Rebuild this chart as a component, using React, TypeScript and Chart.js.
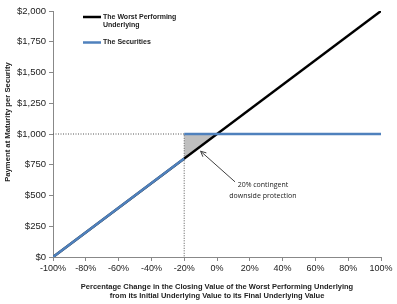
import React, { useEffect, useRef } from "react";
import { Chart, registerables } from "chart.js";

Chart.register(...registerables);

// Worst performing underlying: payoff 1:1 with underlying
const worstX = [-100, 100];
const worstY = [0, 2000];
// The securities: loss 1:1 below barrier, $1,000 at or above barrier
const secX = [-100, -20, -20, -20, 100];
const secY: (number | null)[] = [0, 800, null, 1000, 1000];
// Shaded protection region (between worst line and $1,000)
const protX = [-20, 0];
const protY = [800, 1000];
// Dotted guide lines
const guideX = [-100, -20, -20];
const guideY = [1000, 1000, 0];

const xTickStep = 20;
const yTickStep = 250;
const xMin = -100, xMax = 100, yMin = 0, yMax = 2000;

const legendLabels = [["The Worst Performing", "Underlying"], ["The Securities"]];
const xTitle = [
  "Percentage Change in the Closing Value of the Worst Performing Underlying",
  "from its Initial Underlying Value to its Final Underlying Value",
];
const yTitle = "Payment at Maturity per Security";
const noteLines = ["20% contingent", "downside protection"];
const arrowFrom = { x: 11, y: 611 };
const arrowTo = { x: -10, y: 860 };
const notePos = { x: 28, y: 585 };

const toPts = (xs: number[], ys: (number | null)[]) => xs.map((x, i) => ({ x, y: ys[i] }));

const overlay = {
  id: "overlay",
  afterDraw(chart: any) {
    const ctx = chart.ctx;
    const xs = chart.scales.x, ys = chart.scales.y;
    const area = chart.chartArea;
    ctx.save();
    // Legend
    const lx0 = area.left + 30, lx1 = area.left + 48;
    ctx.lineWidth = 2.5;
    ctx.strokeStyle = "#000";
    ctx.beginPath(); ctx.moveTo(lx0, 17); ctx.lineTo(lx1, 17); ctx.stroke();
    ctx.strokeStyle = "#4f81bd";
    ctx.beginPath(); ctx.moveTo(lx0, 42.5); ctx.lineTo(lx1, 42.5); ctx.stroke();
    ctx.fillStyle = "#222";
    ctx.font = "bold 7px 'Liberation Sans', Arial, sans-serif";
    ctx.textBaseline = "middle";
    ctx.textAlign = "left";
    ctx.fillText(legendLabels[0][0], lx1 + 2, 17);
    ctx.fillText(legendLabels[0][1], lx1 + 2, 25);
    ctx.fillText(legendLabels[1][0], lx1 + 2, 42.5);

    // Axis titles
    ctx.font = "bold 7.5px 'Liberation Sans', Arial, sans-serif";
    ctx.textAlign = "center";
    const cx = (area.left + area.right) / 2;
    ctx.fillText(xTitle[0], cx, 287);
    ctx.fillText(xTitle[1], cx, 296);
    ctx.save();
    ctx.translate(8, 122);
    ctx.rotate(-Math.PI / 2);
    ctx.font = "bold 7.7px 'Liberation Sans', Arial, sans-serif";
    ctx.fillText(yTitle, 0, 0);
    ctx.restore();

    // Annotation arrow
    const ax0 = xs.getPixelForValue(arrowFrom.x), ay0 = ys.getPixelForValue(arrowFrom.y);
    const ax1 = xs.getPixelForValue(arrowTo.x), ay1 = ys.getPixelForValue(arrowTo.y);
    ctx.strokeStyle = "#404040";
    ctx.fillStyle = "#404040";
    ctx.lineWidth = 1;
    ctx.beginPath(); ctx.moveTo(ax0, ay0); ctx.lineTo(ax1, ay1); ctx.stroke();
    const ang = Math.atan2(ay1 - ay0, ax1 - ax0);
    const hl = 6, hw = 0.45;
    ctx.beginPath();
    ctx.moveTo(ax1, ay1);
    ctx.lineTo(ax1 - hl * Math.cos(ang - hw), ay1 - hl * Math.sin(ang - hw));
    ctx.moveTo(ax1, ay1);
    ctx.lineTo(ax1 - hl * Math.cos(ang + hw), ay1 - hl * Math.sin(ang + hw));
    ctx.stroke();

    // Note text
    ctx.fillStyle = "#222";
    ctx.font = "7px 'Open Sans', sans-serif";
    ctx.textAlign = "center";
    const nx = xs.getPixelForValue(notePos.x), ny = ys.getPixelForValue(notePos.y);
    ctx.fillText(noteLines[0], nx, ny);
    ctx.fillText(noteLines[1], nx, ny + 11);
    ctx.restore();
  },
};

export default function App() {
  const ref = useRef<HTMLCanvasElement>(null);
  useEffect(() => {
    const chart = new Chart(ref.current!, {
      type: "line",
      data: {
        datasets: [
          {
            data: toPts(secX, secY) as any,
            borderColor: "#4f81bd",
            borderWidth: 2.5,
            pointRadius: 0,
            spanGaps: false,
            fill: false,
            order: 1,
          },
          {
            data: toPts(worstX, worstY) as any,
            borderColor: "#000",
            borderWidth: 2.5,
            pointRadius: 0,
            fill: false,
            order: 2,
          },
          {
            data: toPts(guideX, guideY) as any,
            borderColor: "#555",
            borderWidth: 1,
            borderDash: [1, 1.5],
            pointRadius: 0,
            fill: false,
            order: 3,
          },
          {
            data: toPts(protX, protY) as any,
            borderColor: "rgba(0,0,0,0)",
            borderWidth: 0,
            backgroundColor: "#bfbfbf",
            pointRadius: 0,
            fill: { value: 1000 },
            order: 4,
          },
        ],
      },
      options: {
        animation: false,
        responsive: false,
        layout: { padding: { top: 11, right: 16, left: 0, bottom: 0 } },
        plugins: { legend: { display: false }, tooltip: { enabled: false } },
        scales: {
          x: {
            type: "linear",
            min: xMin,
            max: xMax,
            afterFit: (s: any) => { s.height = 47; },
            ticks: {
              stepSize: xTickStep,
              callback: (v: any) => v + "%",
              color: "#222",
              font: { family: "'Liberation Sans', Arial, sans-serif", size: 9 },
              padding: 2,
              maxRotation: 0,
            },
            grid: { drawOnChartArea: false, drawTicks: true, tickLength: 4, color: "#888" },
            border: { color: "#888" },
          },
          y: {
            min: yMin,
            max: yMax,
            afterFit: (s: any) => { s.width = 53; },
            ticks: {
              stepSize: yTickStep,
              callback: (v: any) => "$" + Number(v).toLocaleString("en-US"),
              color: "#222",
              font: { family: "'Liberation Sans', Arial, sans-serif", size: 9.5 },
              padding: 3,
            },
            grid: { drawOnChartArea: false, drawTicks: true, tickLength: 4, color: "#888" },
            border: { color: "#888" },
          },
        },
      },
      plugins: [overlay],
    });
    return () => chart.destroy();
  }, []);
  return (
    <div style={{ position: "absolute", left: 0, top: 0, width: 397, height: 304, background: "#fff" }}>
      <canvas ref={ref} width={397} height={304} />
    </div>
  );
}
